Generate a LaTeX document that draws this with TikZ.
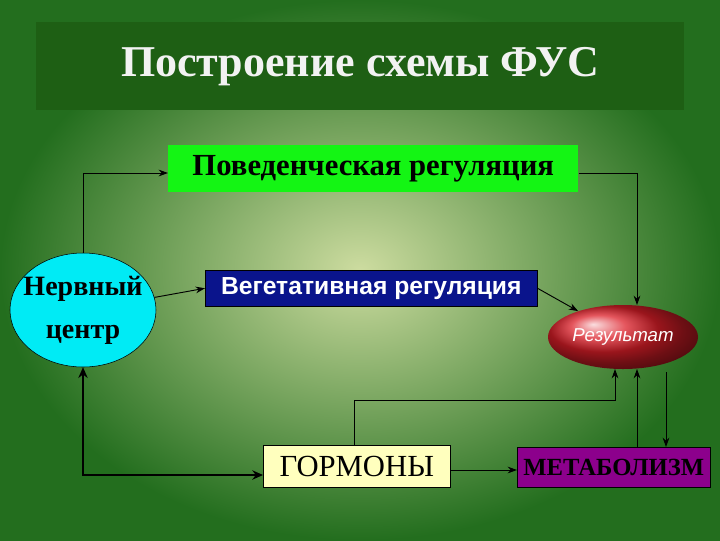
\documentclass[tikz,border=0pt]{standalone}
\usepackage{fontspec}
\setmainfont{Liberation Serif}
\setsansfont{Liberation Sans}
\usetikzlibrary{shapes.geometric,arrows.meta}
\definecolor{bgin}{RGB}{205,220,160}
\definecolor{bgout}{RGB}{35,110,30}
\definecolor{titlebg}{RGB}{30,95,20}
\definecolor{brightgreen}{RGB}{20,245,20}
\definecolor{navy}{RGB}{10,20,140}
\definecolor{resred}{RGB}{220,30,40}
\definecolor{lightyel}{RGB}{255,255,190}
\definecolor{purp}{RGB}{140,0,140}
\definecolor{cyanc}{RGB}{0,235,245}
\tikzset{
 conn/.style={draw=black,line width=0.7pt,-{Stealth[length=7pt,width=5pt]}},
 thick conn/.style={draw=black,line width=2.2pt,{Stealth[length=8pt,width=7pt]}-{Stealth[length=8pt,width=7pt]}},
 boxs/.style={draw=black,line width=0.4pt,inner sep=0pt,anchor=north west}
}
\begin{document}
\begin{tikzpicture}[x=0.75pt,y=-0.75pt]
\useasboundingbox (0,0) rectangle (720,540);
\shade[inner color=bgin,outer color=bgout] (0,0) rectangle (720,540);
\node[boxs,draw=none,fill=titlebg,minimum width=648*0.75pt,minimum height=88*0.75pt] (title) at (36,22) {};
\node[text=white!90!gray,font=\bfseries\fontsize{33}{35}\selectfont] at (title.center) {Построение схемы ФУС};
\node[boxs,draw=none,fill=brightgreen,minimum width=410*0.75pt,minimum height=47*0.75pt] (beh) at (168,145) {};
\node[font=\bfseries\fontsize{23}{25}\selectfont] at (beh.center) {Поведенческая регуляция};
\node[boxs,fill=navy,minimum width=332*0.75pt,minimum height=36*0.75pt] (veg) at (205,270) {};
\node[text=white,font=\sffamily\bfseries\fontsize{18.5}{20}\selectfont] at (veg.center) {Вегетативная регуляция};
\node[ellipse,draw=black,line width=0.4pt,fill=cyanc,minimum width=146*0.75pt,minimum height=114*0.75pt,inner sep=0pt] (nc) at (83,310) {};
\node[align=center,font=\bfseries\fontsize{21}{32}\selectfont] at (nc.center) {Нервный\\центр};
\node[ellipse,draw=none,ball color=resred,minimum width=150*0.75pt,minimum height=64*0.75pt] (res) at (623,337) {};
\node[text=white,font=\sffamily\itshape\fontsize{14}{16}\selectfont] at (res.center) {Результат};
\node[boxs,fill=lightyel,minimum width=187*0.75pt,minimum height=42*0.75pt] (horm) at (263,445) {};
\node[font=\fontsize{23}{25}\selectfont] at (horm.center) {ГОРМОНЫ};
\node[boxs,fill=purp,minimum width=193*0.75pt,minimum height=40*0.75pt] (met) at (517,447) {};
\node[font=\bfseries\fontsize{18.5}{20}\selectfont] at (met.center) {МЕТАБОЛИЗМ};
\draw[conn] (nc.north) -- (83,173) -- (beh.west|-0,173);
\draw[conn] (beh.east|-0,173) -- (637,173) -- (637,305);
\draw[conn] (nc.10) -- (veg.west);
\draw[conn] (veg.east) -- (res.150);
\draw[thick conn] (nc.south) -- (83,475) -- (horm.west|-0,475);
\draw[conn] (354,445) -- (354,400) -- (615,400) -- (615,369);
\draw[conn] (horm.east|-0,470) -- (met.west|-0,470);
\draw[conn] (637,447) -- (637,369);
\draw[conn] (666,372) -- (666,447);
\end{tikzpicture}
\end{document}
